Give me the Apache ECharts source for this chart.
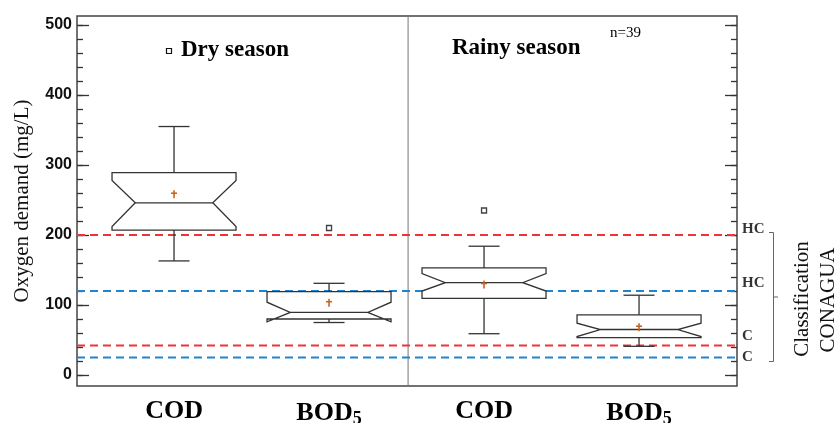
<!DOCTYPE html>
<html>
<head>
<meta charset="utf-8">
<script src="https://cdn.jsdelivr.net/npm/echarts@6/dist/echarts.min.js"></script>
<style>
  html, body { margin: 0; padding: 0; background: #fff; }
  #chart { width: 839px; height: 423px; }
</style>
</head>
<body>
<div id="chart"></div>
<script>
// ---- data ----
const categories = ['COD', 'BOD5', 'COD', 'BOD5'];
const positions = [1, 2, 3, 4];
const whiskerLow = [163, 75, 59, 41];
const q1 = [207, 80, 109.5, 53.5];
const median = [246, 89.5, 132, 65];
const q3 = [289, 119, 153, 86];
const whiskerHigh = [355, 131, 184, 114];
const notchLow = [212, 76, 120, 55];
const notchHigh = [278, 104, 145, 74];
const means = [259, 104, 130, 69];
const outlierX = [2, 3];
const outlierY = [210, 235];
const codLimits = [200, 42];
const bodLimits = [120, 25];
const classLabels = ['HC', 'HC', 'C', 'C'];
const classLabelY = [208, 131, 55, 26];
const yMajorTicks = [0, 100, 200, 300, 400, 500];
const yMinorTicks = [0, 20, 40, 60, 80, 100, 120, 140, 160, 180, 200, 220, 240, 260, 280, 300,
                     320, 340, 360, 380, 400, 420, 440, 460, 480, 500];
const seasonDividerX = 2.51;

const YMIN = -15.7, YMAX = 512.9;
const XMIN = 0.374, XMAX = 4.632;

const chart = echarts.init(document.getElementById('chart'));

function renderBox(params, api) {
  const x = api.value(0);
  const wl = api.value(1), lq = api.value(2), md = api.value(3), uq = api.value(4),
        wh = api.value(5), nl = api.value(6), nh = api.value(7), mn = api.value(8);
  const p = (dx, y) => api.coord([x + dx, y]);
  const W = 0.4, N = 0.25, C = 0.1;
  const stroke = { stroke: '#333', lineWidth: 1.3, fill: null };
  const line = (a, b) => ({ type: 'line', shape: { x1: a[0], y1: a[1], x2: b[0], y2: b[1] }, style: stroke });
  const poly = [p(-W, uq), p(W, uq), p(W, nh), p(N, md), p(W, nl), p(W, lq),
                p(-W, lq), p(-W, nl), p(-N, md), p(-W, nh)];
  const m = p(0, mn);
  const meanStyle = { stroke: '#c8641e', lineWidth: 1.6 };
  return {
    type: 'group',
    children: [
      { type: 'polygon', shape: { points: poly }, style: { stroke: '#333', lineWidth: 1.3, fill: '#fff' } },
      line(p(-N, md), p(N, md)),
      line(p(0, uq), p(0, wh)),
      line(p(-C, wh), p(C, wh)),
      line(p(0, lq), p(0, wl)),
      line(p(-C, wl), p(C, wl)),
      { type: 'line', shape: { x1: m[0], y1: m[1] - 3.5, x2: m[0], y2: m[1] + 4.5 }, style: meanStyle },
      { type: 'line', shape: { x1: m[0] - 3, y1: m[1] - 0.5, x2: m[0] + 3, y2: m[1] - 0.5 }, style: meanStyle }
    ]
  };
}

function hLine(v, color) {
  return {
    type: 'line', data: [[XMIN, v], [XMAX, v]], symbol: 'none', silent: true, z: 1,
    lineStyle: { color: color, width: 2, type: [8, 5] }
  };
}

const serif = 'Liberation Serif, Times New Roman, serif';

function yAxisDef(pos, ticks, len, labels) {
  return {
    type: 'value', position: pos, min: YMIN, max: YMAX,
    axisLine: { show: false },
    splitLine: { show: false },
    axisTick: { show: true, inside: true, length: len, customValues: ticks,
                lineStyle: { color: '#333', width: 1.3 } },
    axisLabel: labels ? {
      show: true, customValues: ticks, margin: 5,
      fontFamily: 'Liberation Sans, Arial, sans-serif', fontWeight: 'bold', fontSize: 16, color: '#111'
    } : { show: false },
    name: labels ? 'Oxygen demand (mg/L)' : '',
    nameLocation: 'middle', nameRotate: 90, nameGap: 44,
    nameTextStyle: { fontFamily: serif, fontSize: 21, color: '#111' }
  };
}

const option = {
  animation: false,
  backgroundColor: '#fff',
  grid: { left: 77, right: 102, top: 16, bottom: 37, outerBoundsMode: 'none', containLabel: false,
          show: true, borderColor: '#444', borderWidth: 1.5, backgroundColor: 'transparent' },
  xAxis: {
    type: 'value', min: XMIN, max: XMAX,
    axisLine: { show: false }, axisTick: { show: false }, splitLine: { show: false },
    axisLabel: {
      customValues: positions, margin: 12,
      formatter: v => {
        const c = categories[Math.round(v) - 1];
        return c === 'BOD5' ? '{b|BOD}{s|5}' : '{b|' + c + '}';
      },
      rich: {
        b: { fontFamily: serif, fontWeight: 'bold', fontSize: 26, color: '#000' },
        s: { fontFamily: serif, fontWeight: 'bold', fontSize: 18, color: '#000', verticalAlign: 'top', padding: [12, 0, 0, 0] }
      }
    }
  },
  yAxis: [
    yAxisDef('left', yMajorTicks, 12, true),
    yAxisDef('left', yMinorTicks, 6, false),
    yAxisDef('right', yMajorTicks, 12, false),
    yAxisDef('right', yMinorTicks, 6, false)
  ],
  series: [
    {
      type: 'line', data: [[seasonDividerX, YMIN], [seasonDividerX, YMAX]], symbol: 'none', silent: true,
      lineStyle: { color: '#777', width: 1 }, z: 1
    },
    hLine(codLimits[0], '#f03434'),
    hLine(bodLimits[0], '#1e86d0'),
    hLine(codLimits[1], '#f03434'),
    hLine(bodLimits[1], '#1e86d0'),
    {
      type: 'custom', renderItem: renderBox, z: 3,
      encode: { x: 0, y: [1, 2, 3, 4, 5] },
      data: positions.map((x, i) => [x, whiskerLow[i], q1[i], median[i], q3[i], whiskerHigh[i], notchLow[i], notchHigh[i], means[i]])
    },
    {
      type: 'scatter', symbol: 'rect', symbolSize: 5, z: 4,
      itemStyle: { color: '#fff', borderColor: '#111', borderWidth: 1.3 },
      data: outlierX.map((x, i) => [x, outlierY[i]])
    },
    {
      type: 'scatter', symbolSize: 0, clip: false, silent: true,
      data: classLabelY.map((y, i) => ({ value: [XMAX, y], label: { formatter: classLabels[i] } })),
      label: { show: true, position: 'right', distance: 5, fontFamily: serif, fontWeight: 'bold', fontSize: 15, color: '#000' }
    }
  ],
  graphic: [
    { type: 'rect', shape: { x: 166.5, y: 48.5, width: 5, height: 5 }, style: { fill: '#fff', stroke: '#111', lineWidth: 1.2 } },
    { type: 'text', left: 181, top: 39, style: { text: 'Dry season', font: 'bold 23px ' + serif, fill: '#000' } },
    { type: 'text', left: 452, top: 37, style: { text: 'Rainy season', font: 'bold 23px ' + serif, fill: '#000' } },
    { type: 'text', left: 610, top: 26, style: { text: 'n=39', font: '15px ' + serif, fill: '#000' } },
    { type: 'polyline', shape: { points: [[769, 232.5], [773.5, 232.5], [773.5, 361.5], [769, 361.5]] }, style: { stroke: '#666', lineWidth: 1, fill: null } },
    { type: 'line', shape: { x1: 773.5, y1: 297, x2: 778, y2: 297 }, style: { stroke: '#666', lineWidth: 1 } },
    { type: 'text', x: 802, y: 299, rotation: Math.PI / 2, style: { text: 'Classification', font: '21px ' + serif, fill: '#111', align: 'center', verticalAlign: 'middle' } },
    { type: 'text', x: 828, y: 300, rotation: Math.PI / 2, style: { text: 'CONAGUA', font: '21px ' + serif, fill: '#111', align: 'center', verticalAlign: 'middle' } }
  ]
};
chart.setOption(option);
</script>
</body>
</html>
